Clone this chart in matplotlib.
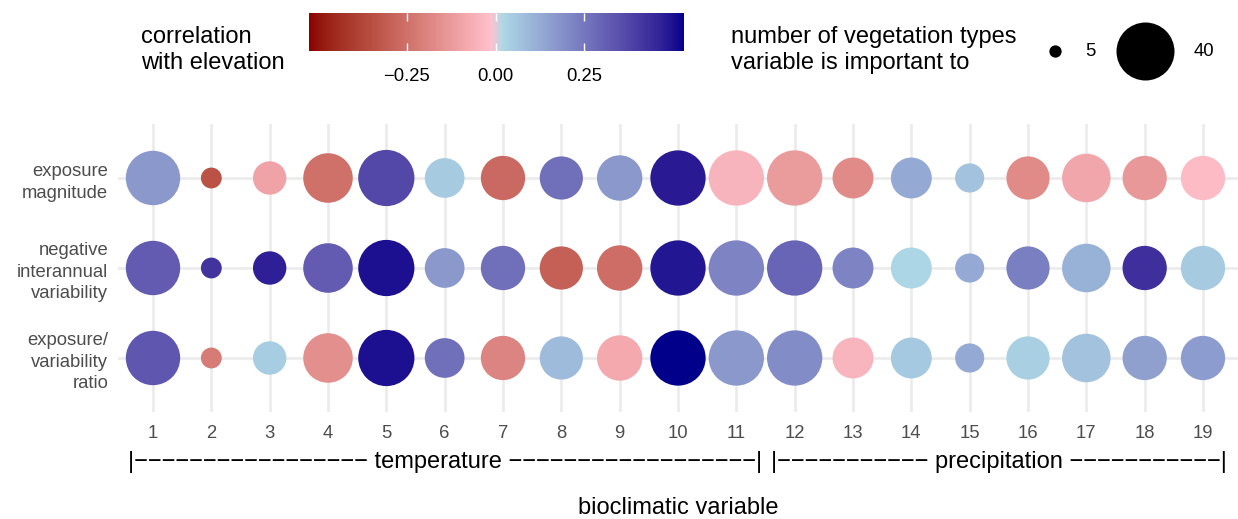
import numpy as np
import matplotlib
matplotlib.use("Agg")
import matplotlib.pyplot as plt
import matplotlib.transforms as mtransforms
from matplotlib.colors import ListedColormap, Normalize, to_rgb
from matplotlib.cm import ScalarMappable
from matplotlib.ticker import FuncFormatter

plt.rcParams["font.family"] = ["Liberation Sans", "DejaVu Sans"]

# ---- data ----
bio_vars = list(range(1, 20))
metrics = ["exposure\nmagnitude",
           "negative\ninterannual\nvariability",
           "exposure/\nvariability\nratio"]

# number of vegetation types each variable is important to
n_veg_types = [36, 9, 17, 31, 38, 22, 26, 25, 27, 37,
               37, 37, 23, 23, 14, 25, 30, 26, 26]

# correlation with elevation, one list per metric
corr_magnitude = [0.17, -0.34, -0.10, -0.25, 0.37, 0.05, -0.27, 0.27, 0.17, 0.48,
                  -0.05, -0.125, -0.17, 0.13, 0.07, -0.17, -0.09, -0.13, -0.03]
corr_variability = [0.32, 0.42, 0.47, 0.32, 0.50, 0.17, 0.27, -0.30, -0.26, 0.49,
                    0.22, 0.295, 0.22, 0.025, 0.13, 0.23, 0.11, 0.43, 0.05]
corr_ratio = [0.33, -0.22, 0.045, -0.16, 0.50, 0.27, -0.19, 0.085, -0.08, 0.53,
              0.17, 0.20, -0.045, 0.055, 0.13, 0.04, 0.07, 0.15, 0.16]
corr_rows = [corr_magnitude, corr_variability, corr_ratio]

groups = {"temperature": list(range(1, 12)), "precipitation": list(range(12, 20))}
# dash counts either side of each group name
group_dashes = {"temperature": (17, 18), "precipitation": (11, 11)}

corr_limits = (-0.525, 0.53)
cbar_breaks = [-0.25, 0.0, 0.25]
size_breaks = [5, 40]

# ---- figure geometry ----
W, H, DPI = 1238, 519, 100
fig = plt.figure(figsize=(W / DPI, H / DPI), dpi=DPI)


# ---- colour scale: darkred -> pink | lightblue -> darkblue, blended in CIELAB ----
M_RGB2XYZ = np.array([[0.4124564, 0.3575761, 0.1804375],
                      [0.2126729, 0.7151522, 0.0721750],
                      [0.0193339, 0.1191920, 0.9503041]])
WHITE = np.array([0.95047, 1.0, 1.08883])


def srgb_to_lab(rgb):
    rgb = np.asarray(rgb, float)
    lin = np.where(rgb <= 0.04045, rgb / 12.92, ((rgb + 0.055) / 1.055) ** 2.4)
    f = (lin @ M_RGB2XYZ.T) / WHITE
    f = np.where(f > (6 / 29) ** 3, np.cbrt(f), f / (3 * (6 / 29) ** 2) + 4 / 29)
    return np.stack([116 * f[..., 1] - 16,
                     500 * (f[..., 0] - f[..., 1]),
                     200 * (f[..., 1] - f[..., 2])], -1)


def lab_to_srgb(lab):
    fy = (lab[..., 0] + 16) / 116
    f = np.stack([fy + lab[..., 1] / 500, fy, fy - lab[..., 2] / 200], -1)
    xyz = np.where(f > 6 / 29, f ** 3, 3 * (6 / 29) ** 2 * (f - 4 / 29)) * WHITE
    lin = np.clip(xyz @ np.linalg.inv(M_RGB2XYZ).T, 0, 1)
    rgb = np.where(lin <= 0.0031308, 12.92 * lin, 1.055 * lin ** (1 / 2.4) - 0.055)
    return np.clip(rgb, 0, 1)


lo, hi = corr_limits
node_vals = [lo, -0.015, 0.02, hi]
node_pos = [(v - lo) / (hi - lo) for v in node_vals]
node_lab = srgb_to_lab([to_rgb(c) for c in ["darkred", "pink", "lightblue", "darkblue"]])
t = np.linspace(0, 1, 512)
lab = np.stack([np.interp(t, node_pos, node_lab[:, k]) for k in range(3)], -1)
cmap = ListedColormap(lab_to_srgb(lab))
norm = Normalize(lo, hi)


# ---- size scale: diameter (px) linear in sqrt(n), anchored on the legend keys ----
D_SMALL, D_LARGE = 12.3, 58.0


def marker_area(n):
    s0, s1 = np.sqrt(size_breaks[0]), np.sqrt(size_breaks[1])
    d_px = D_SMALL + (D_LARGE - D_SMALL) * (np.sqrt(np.asarray(n, float)) - s0) / (s1 - s0)
    return (d_px * 72 / DPI) ** 2


# ---- main panel ----
ax = fig.add_axes([118 / W, 1 - 412 / H, 1 - 118 / W, (412 - 124) / H])
for i, corr in enumerate(corr_rows):
    ax.scatter(bio_vars, [i] * len(bio_vars), s=marker_area(n_veg_types), c=corr,
               cmap=cmap, norm=norm, linewidths=0, zorder=3)

ax.set_xlim(0.4, 19.6)
ax.set_ylim(len(metrics) - 0.4, -0.6)
ax.set_xticks(bio_vars)
ax.set_xticklabels([str(b) for b in bio_vars])
ax.set_yticks(range(len(metrics)))
ax.set_yticklabels(metrics, linespacing=1.35)
ax.tick_params(length=0, labelsize=13.3, labelcolor="#4D4D4D")
ax.tick_params(axis="x", pad=9)
ax.tick_params(axis="y", pad=7)
ax.grid(color="#EBEBEB", linewidth=1.9, zorder=0)
ax.set_axisbelow(True)
for sp in ax.spines.values():
    sp.set_visible(False)

# group brackets under the tick labels
trans = mtransforms.blended_transform_factory(ax.transData, ax.transAxes)
for name, members in groups.items():
    nl, nr = group_dashes[name]
    label = "|" + "\u2212" * nl + " " + name + " " + "\u2212" * nr + "|"
    ax.text(np.mean(members), -0.172, label, transform=trans,
            ha="center", va="center", fontsize=17, clip_on=False)

fig.text((118 + W) / 2 / W, 1 - 508 / H, "bioclimatic variable",
         ha="center", va="center", fontsize=17)

# ---- colour legend ----
fig.text(141 / W, 1 - 50 / H, "correlation\nwith elevation",
         ha="left", va="center", fontsize=17, linespacing=1.18)
cax = fig.add_axes([309 / W, 1 - 51 / H, (684 - 309) / W, 38 / H])
cb = fig.colorbar(ScalarMappable(norm=norm, cmap=cmap), cax=cax, orientation="horizontal")
cb.outline.set_visible(False)
cb.set_ticks(cbar_breaks)
cax.xaxis.set_major_formatter(FuncFormatter(lambda v, p: f"{v:.2f}".replace("-", "\u2212")))
cax.tick_params(axis="x", which="major", direction="in", top=True, bottom=True,
                color="white", length=5.5, width=1, labelsize=13.3, pad=12.5)
cax.minorticks_off()

# ---- size legend ----
fig.text(731 / W, 1 - 50 / H, "number of vegetation types\nvariable is important to",
         ha="left", va="center", fontsize=17, linespacing=1.18)
lax = fig.add_axes([0, 0, 1, 1], facecolor="none")
lax.set_xlim(0, W)
lax.set_ylim(H, 0)
lax.axis("off")
key_x = [1055, 1145]
label_x = [1085, 1194]
for kx, lx, n in zip(key_x, label_x, size_breaks):
    lax.scatter([kx], [51], s=marker_area(n), color="black", linewidths=0)
    lax.text(lx, 51, str(n), ha="left", va="center", fontsize=13.3)

fig.savefig("out.png", dpi=DPI)
